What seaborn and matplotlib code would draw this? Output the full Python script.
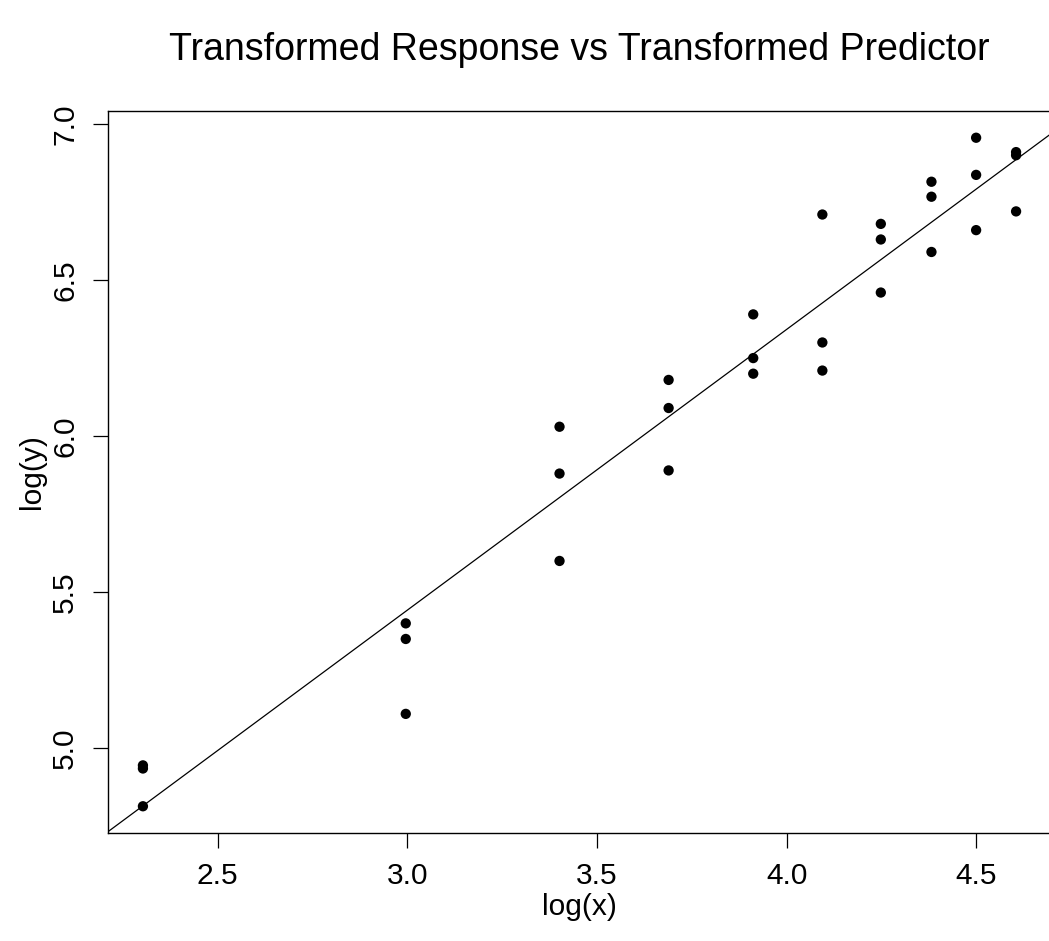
import numpy as np
import pandas as pd
import matplotlib
matplotlib.use("Agg")
import matplotlib.pyplot as plt
import seaborn as sns

# Data
x_raw = [10, 20, 30, 40, 50, 60, 70, 80, 90, 100]
y_g1 = [4.945, 5.40, 6.03, 6.18, 6.39, 6.71, 6.68, 6.815, 6.956, 6.91]
y_g2 = [4.935, 5.35, 5.88, 6.09, 6.25, 6.30, 6.63, 6.767, 6.837, 6.90]
y_g3 = [4.814, 5.11, 5.60, 5.89, 6.20, 6.21, 6.46, 6.59, 6.66, 6.72]
x_ticks = [2.5, 3.0, 3.5, 4.0, 4.5]
y_ticks = [5.0, 5.5, 6.0, 6.5, 7.0]

lx = np.log(np.array(x_raw, dtype=float))
df = pd.DataFrame({
    "lx": np.concatenate([lx, lx, lx]),
    "ly": np.array(y_g1 + y_g2 + y_g3),
})

sns.set_theme(style="white")
plt.rcParams["font.family"] = ["Liberation Sans", "DejaVu Sans"]

W, H = 1049, 941
fig = plt.figure(figsize=(W / 100, H / 100), dpi=100)
left, right, top, bottom = 108, 1051, 111, 833
ax = fig.add_axes([left / W, 1 - bottom / H, (right - left) / W, (bottom - top) / H])

# R-like 4% padding
xr = df.lx.max() - df.lx.min()
yr = df.ly.max() - df.ly.min()
xlim = (df.lx.min() - 0.04 * xr, df.lx.max() + 0.04 * xr)
ylim = (df.ly.min() - 0.04 * yr, df.ly.max() + 0.04 * yr)
ax.set_xlim(*xlim)
ax.set_ylim(*ylim)

sns.regplot(data=df, x="lx", y="ly", ax=ax, ci=None, truncate=False,
            scatter_kws=dict(s=55, color="black", alpha=1, edgecolor="none", linewidths=0),
            line_kws=dict(color="black", lw=0.9))

ax.set_xlim(*xlim)
ax.set_ylim(*ylim)

ax.set_xticks(x_ticks)
ax.set_xticklabels([f"{t:.1f}" for t in x_ticks])
ax.set_yticks(y_ticks)
ax.set_yticklabels([f"{t:.1f}" for t in y_ticks], rotation=90, va="center")

for s in ax.spines.values():
    s.set_visible(True)
    s.set_color("black")
    s.set_linewidth(1.0)

ax.tick_params(axis="both", which="major", direction="out", length=10.8, width=0.9,
               color="black", labelsize=21.5, labelcolor="black",
               bottom=True, left=True, top=False, right=False, pad=10)

ax.set_xlabel("log(x)", fontsize=21.5, color="black", labelpad=2)
ax.set_ylabel("log(y)", fontsize=21.5, color="black", labelpad=4)
fig.text(((left + right) / 2) / W, 1 - 50 / H,
         "Transformed Response vs Transformed Predictor",
         fontsize=27, color="black", ha="center", va="center")

fig.savefig("out.png", dpi=100, facecolor="white")
